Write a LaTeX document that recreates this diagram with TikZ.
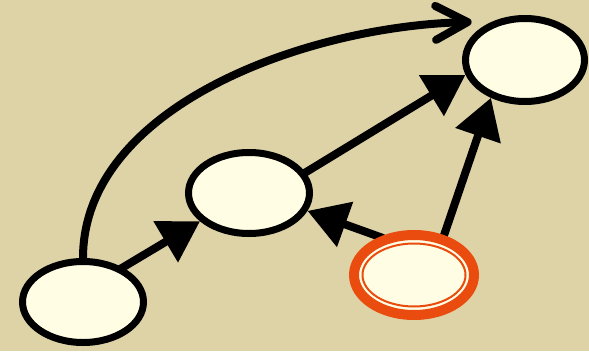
\documentclass[tikz,border=0pt]{standalone}
\usetikzlibrary{shapes.geometric,arrows.meta,backgrounds}
\definecolor{tanbg}{RGB}{222,211,166}
\definecolor{creamfill}{RGB}{255,253,228}
\definecolor{redorange}{RGB}{233,76,14}

\begin{document}
\begin{tikzpicture}[x=1pt,y=-1pt,
	state/.style={draw,ellipse,fill=creamfill,line width=7pt,minimum width=121pt,minimum height=81pt,inner sep=0pt},
	startstate/.style={state,draw=redorange,line width=10pt,minimum width=120pt,minimum height=80pt},
	link/.style={line width=8pt,-{Triangle[length=40pt,width=46pt]},shorten <=-4pt},
	skip/.style={line width=8pt,line cap=round,-{Straight Barb[length=32pt,width=34pt,line cap=round,line join=round]}}]
	\useasboundingbox (0,0) rectangle (589,351);
	\coordinate (a) at (83,302);
	\coordinate (b) at (249,193);
	\coordinate (c) at (525,60);
	\coordinate (d) at (414,275);
	\node[state] (A) at (a) {};
	\node[state] (B) at (b) {};
	\node[state,minimum width=119pt,minimum height=83pt] (C) at (c) {};
	\node[startstate] (D) at (d) {};
	\draw[redorange,line width=2pt] (D.center) ellipse (51.5 and 31.5);
	\begin{pgfonlayer}{background}
		\fill[tanbg] (0,0) rectangle (589,351);
		\draw[link] (A.41) -- (B.210);
		\draw[link] (B.20) -- (C.194);
		\draw[link] (D.132) -- (B.343);
		\draw[link] (D.53) -- (C.228);
		\draw[skip,shorten >=21pt] (A.north) .. controls +(0,-150) and +(-190,5) .. (C.130);
	\end{pgfonlayer}
\end{tikzpicture}
\end{document}
